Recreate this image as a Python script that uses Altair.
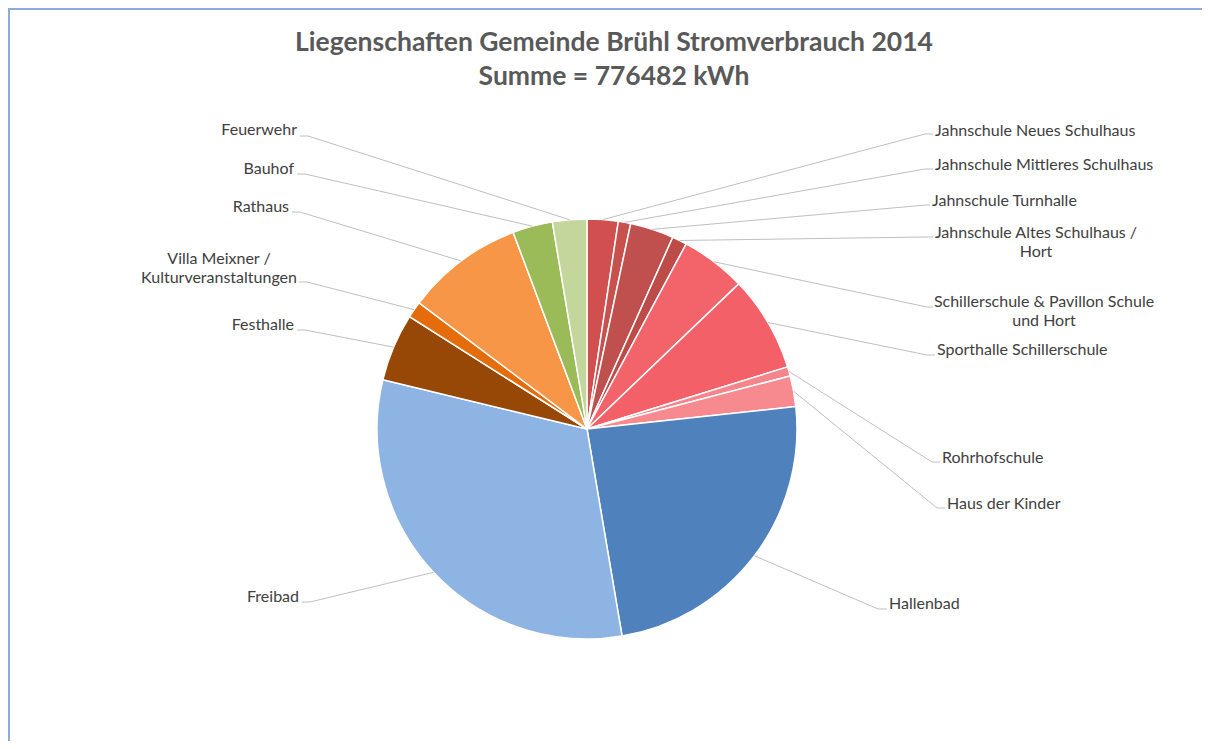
import altair as alt
import pandas as pd

# ---------------- data ----------------
names = [
    "Jahnschule Neues Schulhaus",
    "Jahnschule Mittleres Schulhaus",
    "Jahnschule Turnhalle",
    "Jahnschule Altes Schulhaus /\nHort",
    "Schillerschule & Pavillon Schule\nund Hort",
    "Sporthalle Schillerschule",
    "Rohrhofschule",
    "Haus der Kinder",
    "Hallenbad",
    "Freibad",
    "Festhalle",
    "Villa Meixner /\nKulturveranstaltungen",
    "Rathaus",
    "Bauhof",
    "Feuerwehr",
]
values = [18500, 7400, 26100, 8800, 39000, 57200, 5600, 18300,
          186600, 244082, 40500, 9900, 70100, 23900, 20500]
colors = ["#D1504F", "#C8504D", "#C0504D", "#BD4B48", "#F2636A", "#F36067",
          "#F6858B", "#F78A8E", "#4F81BD", "#8EB4E3", "#974806", "#E46C0A",
          "#F79646", "#9BBB59", "#C3D69B"]
title_lines = ["Liegenschaften Gemeinde Brühl Stromverbrauch 2014",
               "Summe = 776482 kWh"]

# ---------------- layout (page pixels) ----------------
M = 8  # page margin
CX, CY, R = 587 - M, 429 - M, 210
label_x = [935, 935, 932, 1036, 1044, 937, 942, 947, 889, 299, 294, 219, 289, 294, 297]
label_y = [135.5, 169.5, 205.5, 237.5, 307, 355, 463, 509, 609, 602, 330, 264, 212, 174, 135]
label_align = ["left", "left", "left", "center", "center", "left", "left", "left", "left",
               "right", "right", "center", "right", "right", "right"]
end_x = [933, 933, 930, 933, 933, 935, 940, 945, 887, 302, 297, 299, 292, 297, 300]
end_y = [134, 169, 205, 237, 307, 355, 462, 508, 609, 602, 330, 282, 212, 174, 136]
elbow_dx = [-8, -8, -4, -8, -6, -8, -8, -8, -9, 8, 8, 8, 8, 8, 8]

df = pd.DataFrame({
    "name": names,
    "value": values,
    "order": list(range(len(names))),
    "lx": [v - M for v in label_x],
    "ly": [v - M for v in label_y],
    "align": label_align,
    "ex": [v - M for v in end_x],
    "ey": [v - M for v in end_y],
    "bx": [x - M + d for x, d in zip(end_x, elbow_dx)],
})

W, H = 1210 - 2 * M, 749 - 2 * M
FONT = "Lato"

base = alt.Chart(df).transform_joinaggregate(
    total="sum(value)"
).transform_window(
    cum="sum(value)", sort=[alt.SortField("order")], frame=[None, 0]
).transform_calculate(
    mid="(datum.cum - datum.value/2) / datum.total * 2 * PI",
    sx=f"{CX} + {R} * sin(datum.mid)",
    sy=f"{CY} - {R} * cos(datum.mid)",
)

pie = alt.Chart(df).mark_arc(outerRadius=R, stroke="white", strokeWidth=1.5).encode(
    theta=alt.Theta("value:Q", stack=True),
    order=alt.Order("order:Q"),
    color=alt.Color("name:N", scale=alt.Scale(domain=names, range=colors), legend=None),
    x=alt.value(CX),
    y=alt.value(CY),
)

lead1 = base.mark_rule(color="#BFBFBF", strokeWidth=1).encode(
    x=alt.X("sx:Q", scale=None, axis=None),
    y=alt.Y("sy:Q", scale=None, axis=None),
    x2="bx:Q",
    y2="ey:Q",
)
lead2 = base.mark_rule(color="#BFBFBF", strokeWidth=1).encode(
    x=alt.X("bx:Q", scale=None, axis=None),
    y=alt.Y("ey:Q", scale=None, axis=None),
    x2="ex:Q",
    y2="ey:Q",
)

def text_layer(al):
    return base.transform_filter(alt.datum.align == al).mark_text(
        align=al, baseline="alphabetic", font=FONT, fontSize=16, color="#404040",
        lineHeight=19, lineBreak="\n",
    ).encode(
        x=alt.X("lx:Q", scale=None, axis=None),
        y=alt.Y("ly:Q", scale=None, axis=None),
        text="name:N",
    )

labels = [text_layer(a) for a in ["left", "right", "center"]]

tdf = pd.DataFrame({"t": title_lines, "ty": [51 - M, 85 - M]})
title = alt.Chart(tdf).mark_text(
    align="center", baseline="alphabetic", font=FONT, fontSize=26.5,
    fontWeight="bold", color="#595959",
).encode(
    x=alt.value(614 - M),
    y=alt.Y("ty:Q", scale=None, axis=None),
    text="t:N",
)

frame_top = alt.Chart(df).mark_rule(color="#8EAADB", strokeWidth=2).encode(
    x=alt.value(0), x2=alt.value(W), y=alt.value(0.5)
)
frame_left = alt.Chart(df).mark_rule(color="#8EAADB", strokeWidth=2).encode(
    x=alt.value(0.5), y=alt.value(0), y2=alt.value(H)
)

chart = alt.layer(
    frame_top, frame_left, pie, lead1, lead2, *labels, title
).properties(
    width=W, height=H, padding=0, autosize=alt.AutoSizeParams(type="none"),
).configure_view(stroke=None)

chart.save("out.html", embed_options={"renderer": "svg", "actions": False})
